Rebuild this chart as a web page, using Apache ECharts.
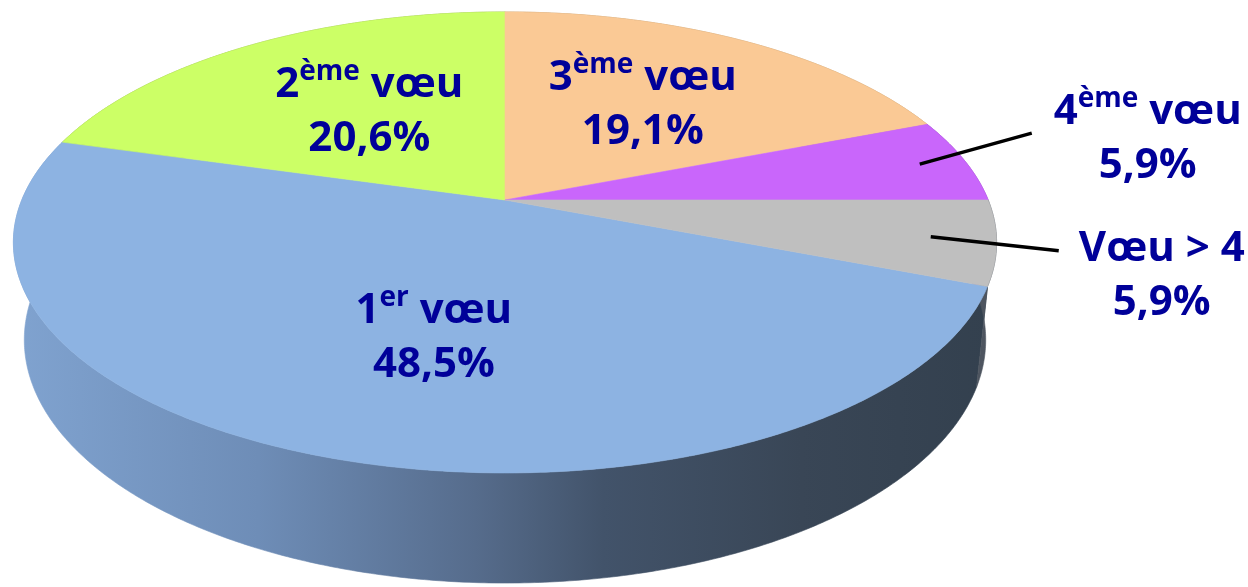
<!DOCTYPE html>
<html>
<head>
<meta charset="utf-8">
<script src="https://cdn.jsdelivr.net/npm/echarts@6/dist/echarts.min.js"></script>
<style>
html,body{margin:0;padding:0;background:#fff;}
#chart{width:1248px;height:587px;}
</style>
</head>
<body>
<div id="chart"></div>
<script>
// ---- data ----
const categories = ['1er vœu', '2ème vœu', '3ème vœu', '4ème vœu', 'Vœu > 4'];
const values = [48.5, 20.6, 19.1, 5.9, 5.9];
const labelLead = ['1', '2', '3', '4', 'Vœu > 4'];
const labelSup = ['er', 'ème', 'ème', 'ème', ''];
const labelTail = [' vœu', ' vœu', ' vœu', ' vœu', ''];

// ---- style ----
const topColors = ['#8db3e2', '#ccff66', '#fac995', '#c966fb', '#bfbfbf'];
const wallColors = [
  {type: 'linear', x: 12, y: 0, x2: 998, y2: 0, global: true, colorStops: [
    {offset: 0, color: '#80a3d0'}, {offset: 0.25, color: '#6e8db7'},
    {offset: 0.47, color: '#566c8c'}, {offset: 0.6, color: '#42536a'},
    {offset: 0.8, color: '#394656'}, {offset: 1, color: '#33404e'}]},
  '#8aa84a', '#b89060', '#8a46b0', '#4e5560'
];
const firstSliceAngle = 111.24; // clockwise from 12 o'clock
// projection (3D tilt with perspective)
const CX = 505, CY = 200, F = 2329, D = 4.82, SINP = 0.4609, COSP = 0.8875, H = 0.229;
// label layout
const labelLayout = [
  {r: 0.5, dx: 13, dy: 22},
  {r: 0.5, dx: 0, dy: -5},
  {r: 0.5, dx: 11, dy: -10},
  {r: 0.9, outside: true, lineEnd: [112, -31], text: [228, -25]},
  {r: 0.87, outside: true, lineEnd: [128, 14], text: [231, 39]}
];
const FONT = '"Open Sans", "Noto Sans", sans-serif';
const TEXT_COLOR = '#000099';
const MAIN_SIZE = 42, SUP_SIZE = 28;

function proj(thetaDeg, r, h) {
  const t = thetaDeg * Math.PI / 180;
  const xw = r * Math.cos(t), zw = r * Math.sin(t);
  const yc = zw * SINP - h * COSP;
  const dep = D + zw * COSP + h * SINP;
  return [CX + F * xw / dep, CY - F * yc / dep];
}

const total = values.reduce((a, b) => a + b, 0);
function sliceAngles(i) {
  let before = 0;
  for (let k = 0; k < i; k++) before += values[k];
  const start = 90 - firstSliceAngle - before / total * 360;
  const end = start - values[i] / total * 360;
  return [start, end];
}
function arcPoints(a0, a1, r, h) {
  const pts = [];
  const n = Math.max(2, Math.ceil(Math.abs(a1 - a0) / 0.5));
  for (let k = 0; k <= n; k++) pts.push(proj(a0 + (a1 - a0) * k / n, r, h));
  return pts;
}

const seriesData = values.map((v, i) => [v, i]);

const option = {
  animation: false,
  backgroundColor: '#ffffff',
  series: [
    {
      type: 'custom', coordinateSystem: 'none', z: 1, silent: true,
      data: seriesData,
      renderItem: function (params, api) {
        const i = api.value(1);
        const [a0, a1] = sliceAngles(i);
        const top = arcPoints(a0, a1, 1, 0);
        const bot = arcPoints(a0, a1, 1, H).reverse();
        return {type: 'polygon', shape: {points: top.concat(bot)},
          style: {fill: wallColors[i], stroke: wallColors[i], lineWidth: 0.6}};
      }
    },
    {
      type: 'custom', coordinateSystem: 'none', z: 2, silent: true,
      data: seriesData,
      renderItem: function (params, api) {
        const i = api.value(1);
        const [a0, a1] = sliceAngles(i);
        const pts = [proj(0, 0, 0)].concat(arcPoints(a0, a1, 1, 0));
        return {type: 'polygon', shape: {points: pts},
          style: {fill: topColors[i], stroke: topColors[i], lineWidth: 0.6}};
      }
    },
    {
      type: 'custom', coordinateSystem: 'none', z: 3, silent: true,
      data: seriesData,
      renderItem: function (params, api) {
        const i = api.value(1);
        const v = api.value(0);
        const [a0, a1] = sliceAngles(i);
        const mid = (a0 + a1) / 2;
        const L = labelLayout[i];
        const p = proj(mid, L.r, 0);
        const pct = v.toFixed(1).replace('.', ',') + '%';
        let txt = '{a|' + labelLead[i] + '}';
        if (labelSup[i]) txt += '{s|' + labelSup[i] + '}';
        if (labelTail[i]) txt += '{a|' + labelTail[i] + '}';
        txt += '\n{a|' + pct + '}';
        const rich = {
          a: {fontSize: MAIN_SIZE, fontWeight: 'bold', fontFamily: FONT, fill: TEXT_COLOR, lineHeight: 54},
          s: {fontSize: SUP_SIZE, fontWeight: 'bold', fontFamily: FONT, fill: TEXT_COLOR, lineHeight: 30, verticalAlign: 'top'}
        };
        const children = [];
        let tx, ty;
        if (L.outside) {
          const e = [p[0] + L.lineEnd[0], p[1] + L.lineEnd[1]];
          children.push({type: 'line', shape: {x1: p[0], y1: p[1], x2: e[0], y2: e[1]},
            style: {stroke: '#000000', lineWidth: 3.5}});
          tx = p[0] + L.text[0]; ty = p[1] + L.text[1];
        } else {
          tx = p[0] + L.dx; ty = p[1] + L.dy;
        }
        children.push({type: 'text', x: tx, y: ty,
          style: {text: txt, rich: rich, align: 'center', verticalAlign: 'middle',
            fontFamily: FONT, fontWeight: 'bold', fontSize: MAIN_SIZE, fill: TEXT_COLOR}});
        return {type: 'group', children: children};
      }
    }
  ]
};
const chart = echarts.init(document.getElementById('chart'), null, {renderer: 'canvas'});
chart.setOption(option);
</script>
</body>
</html>
